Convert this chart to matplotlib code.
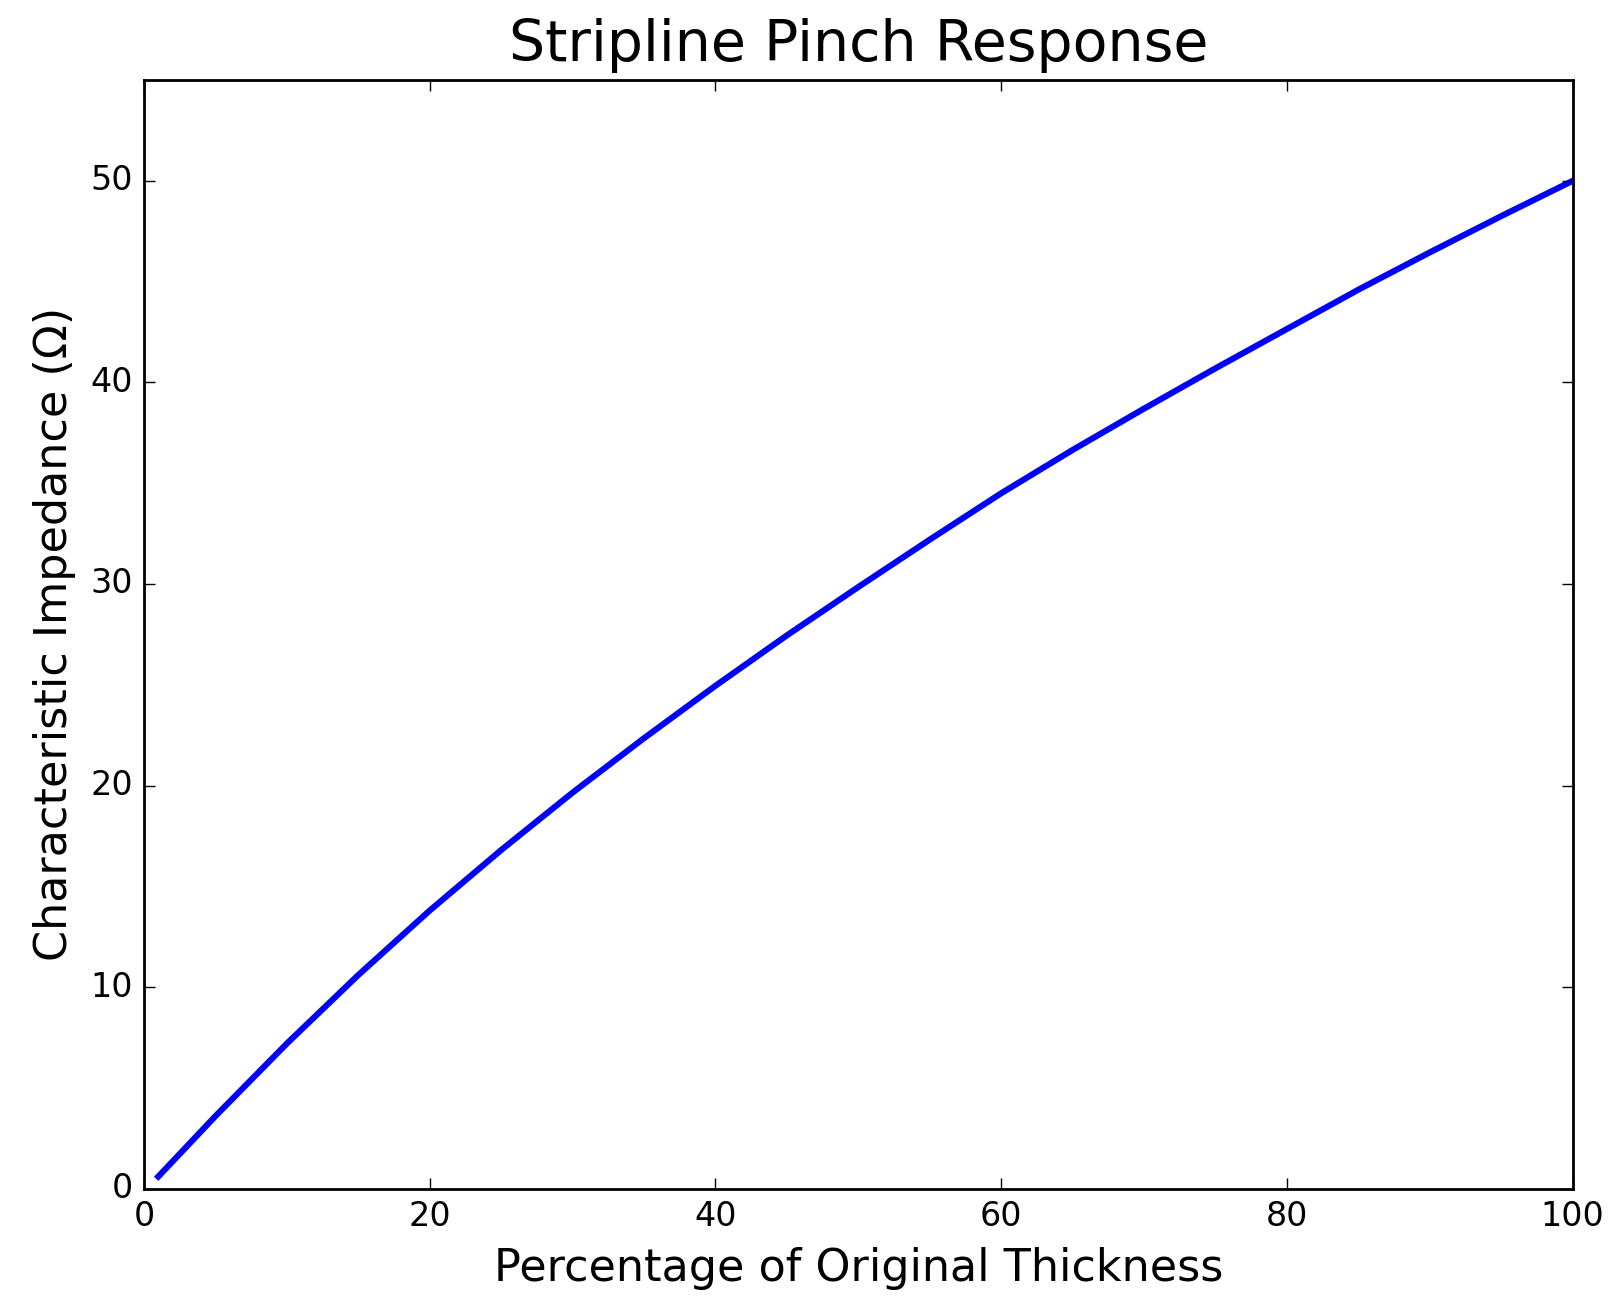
import matplotlib
matplotlib.use("Agg")
import matplotlib.pyplot as plt

# percentage of original thickness vs characteristic impedance (ohm)
thickness = [1, 5, 10, 15, 20, 25, 30, 35, 40, 45, 50, 55, 60, 65, 70, 75, 80, 85, 90, 95, 100]
impedance = [0.6, 3.6, 7.2, 10.6, 13.8, 16.8, 19.65, 22.35, 24.95, 27.45, 29.85, 32.2,
             34.5, 36.65, 38.7, 40.7, 42.65, 44.6, 46.45, 48.25, 50.0]

plt.style.use("classic")
fig = plt.figure(figsize=(8.09, 6.56), dpi=200)
ax = fig.add_subplot(111)
ax.plot(thickness, impedance, "b", linewidth=2.2)
ax.set_xlim(0, 100)
ax.set_ylim(0, 55)
ax.set_xticks([0, 20, 40, 60, 80, 100])
ax.set_yticks([0, 10, 20, 30, 40, 50])
ax.tick_params(labelsize=12)
ax.set_title("Stripline Pinch Response", fontsize=20.5, pad=7)
ax.set_xlabel("Percentage of Original Thickness", fontsize=16)
ax.set_ylabel("Characteristic Impedance (\u03a9)", fontsize=16)
fig.subplots_adjust(left=0.089, right=0.972, bottom=0.094, top=0.939)
fig.savefig("out.png", dpi=200, facecolor="white")
